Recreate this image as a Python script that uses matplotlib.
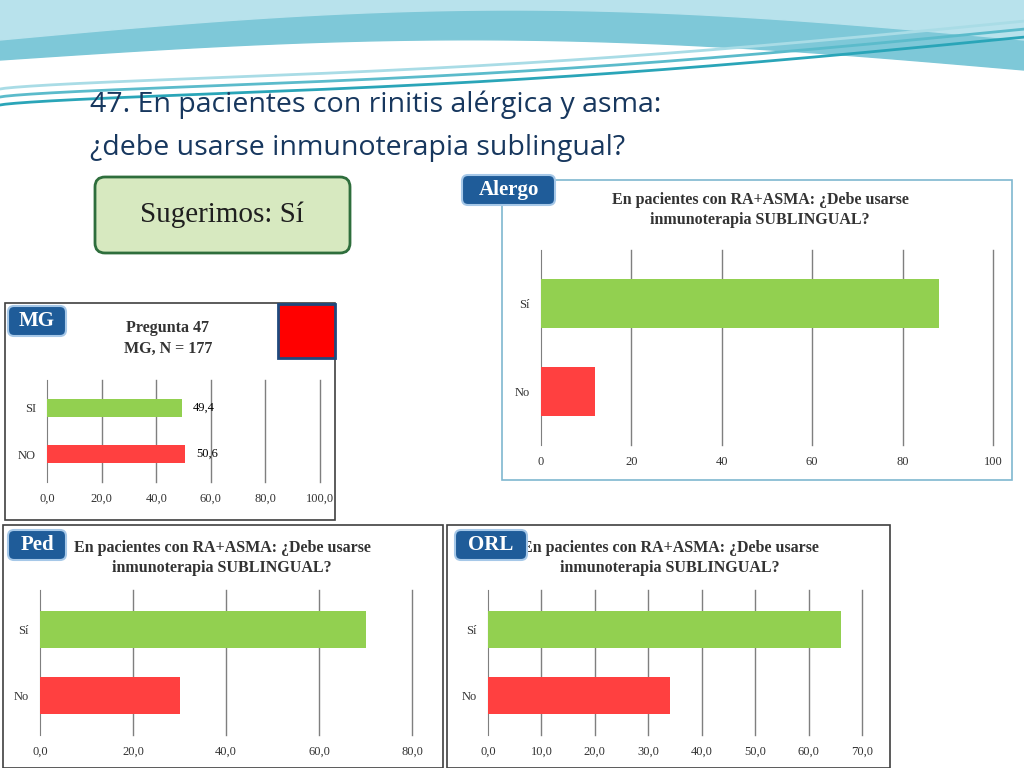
import numpy as np
import matplotlib.pyplot as plt
from matplotlib.patches import FancyBboxPatch, Rectangle

# data
cats = ['No', 'Sí']
alergo_vals = [12, 88]
mg_cats = ['NO', 'SI']
mg_vals = [50.6, 49.4]
ped_vals = [30, 70]
orl_vals = [34, 66]

GREEN = '#92D050'
RED = '#FF4040'
W, H = 1024, 768

fig = plt.figure(figsize=(10.24, 7.68), dpi=100)
bg = fig.add_axes([0, 0, 1, 1])
bg.set_xlim(0, W)
bg.set_ylim(H, 0)
bg.axis('off')

# wavy header
xs = np.linspace(0, W, 200)
bg.fill_between(xs, 0, 60 - 25 * np.sin(xs / W * np.pi) + 10 * xs / W, color='#7EC8D8')
bg.fill_between(xs, 0, 40 - 30 * np.sin(xs / W * np.pi), color='#B8E2EC')
for k, c in [(0, '#2AA5B8'), (8, '#5BBBCB'), (16, '#A9DCE6')]:
    bg.plot(xs, 105 - k - 70 * (xs / W) ** 0.8 + 15 * np.sin(xs / W * 3), color=c, lw=2)

bg.text(90, 105, '47. En pacientes con rinitis alérgica y asma:', fontsize=20.5,
        family='Open Sans', color='#17375E', va='center')
bg.text(90, 148, '¿debe usarse inmunoterapia sublingual?', fontsize=20.5,
        family='Open Sans', color='#17375E', va='center')

bg.add_patch(FancyBboxPatch((95, 177), 255, 76, boxstyle='round,pad=0,rounding_size=10',
                            fc='#D7E9C0', ec='#2E6E3C', lw=2))
bg.text(222, 215, 'Sugerimos: Sí', fontsize=21, family='Liberation Serif',
        ha='center', va='center', color='#1F1F1F')

# chart frames
for x0, y0, x1, y1, ec in [(502, 180, 1012, 480, '#7FB7D0'), (5, 303, 335, 520, '#404040'),
                           (3, 525, 443, 768, '#404040'), (447, 525, 890, 768, '#404040')]:
    bg.add_patch(Rectangle((x0, y0), x1 - x0, y1 - y0, fc='white', ec=ec, lw=1.2))
bg.add_patch(Rectangle((278, 304), 57, 54, fc='#FF0000', ec='#1F497D', lw=2))

serif = 'Liberation Serif'
title_ab = 'En pacientes con RA+ASMA: ¿Debe usarse\ninmunoterapia SUBLINGUAL?'
for cx, cy, t in [(760, 210, title_ab), (168, 338, 'Pregunta 47\nMG, N = 177'),
                  (222, 558, title_ab), (670, 558, title_ab)]:
    bg.text(cx, cy, t, fontsize=11.5, family=serif, fontweight='bold',
            ha='center', va='center', color='#333333', linespacing=1.4)


def px_axes(x0, y0, x1, y1):
    return fig.add_axes([x0 / W, 1 - y1 / H, (x1 - x0) / W, (y1 - y0) / H])


def bars(ax, labels, vals, xmax, step, height, comma=True):
    ticks = np.arange(0, xmax + step / 2, step)
    ax.barh(labels, vals, color=[RED, GREEN], height=height, zorder=3)
    ax.set_xlim(0, xmax)
    ax.set_xticks(ticks)
    if comma:
        ax.set_xticklabels([f'{t:.1f}'.replace('.', ',') for t in ticks])
    else:
        ax.set_xticklabels([f'{t:.0f}' for t in ticks])
    for t in ticks[1:]:
        ax.axvline(t, color='#7F7F7F', lw=1, zorder=1, clip_on=False)
    for s in ['top', 'right', 'bottom']:
        ax.spines[s].set_visible(False)
    ax.spines['left'].set_color('#7F7F7F')
    ax.tick_params(length=0, labelsize=9, colors='#333333', pad=8)
    for lab in ax.get_xticklabels() + ax.get_yticklabels():
        lab.set_family(serif)
    ax.set_ylim(-0.6, 1.6)


ax1 = px_axes(541, 250, 993, 445)
bars(ax1, cats, alergo_vals, 100, 20, 0.55, comma=False)
ax2 = px_axes(47, 380, 320, 482)
bars(ax2, mg_cats, mg_vals, 100, 20, 0.4)
for i, v in enumerate(mg_vals):
    ax2.text(v + 4, i, f'{v:.1f}'.replace('.', ','), va='center', fontsize=9, family=serif)
ax3 = px_axes(40, 590, 412, 735)
bars(ax3, cats, ped_vals, 80, 20, 0.55)
ax4 = px_axes(488, 590, 862, 735)
bars(ax4, cats, orl_vals, 70, 10, 0.55)

# tags
for x, y, w, t in [(462, 175, 93, 'Alergo'), (8, 306, 58, 'MG'), (8, 530, 58, 'Ped'), (455, 530, 72, 'ORL')]:
    bg.add_patch(FancyBboxPatch((x, y), w, 30, boxstyle='round,pad=0,rounding_size=6',
                                fc='#1F5C99', ec='#A6C8E8', lw=1.5, zorder=5))
    bg.text(x + w / 2, y + 15, t, color='white', fontsize=15, family=serif,
            fontweight='bold', ha='center', va='center', zorder=6)

fig.savefig('out.png', dpi=100)
